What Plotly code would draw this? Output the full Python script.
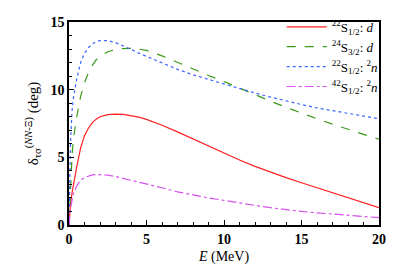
import plotly.graph_objects as go

E = [0, 0.05, 0.1, 0.2, 0.3, 0.5, 0.75, 1, 1.25, 1.5, 1.75, 2, 2.5, 3, 3.5, 4, 4.5, 5, 6, 7, 8, 9, 10,
     11, 12, 13, 14, 15, 16, 17, 18, 19, 20]

red_22S12_d = [0, 1.0, 1.6, 2.4, 3.1, 4.3, 5.7, 6.6, 7.15, 7.55, 7.82, 8.0, 8.15, 8.2, 8.18, 8.1, 7.97, 7.8,
               7.37, 6.88, 6.36, 5.83, 5.3, 4.8, 4.33, 3.9, 3.5, 3.12, 2.75, 2.38, 2.0, 1.64, 1.28]
green_24S32_d = [0, 1.5, 3.0, 5.2, 6.5, 8.0, 9.5, 10.5, 11.25, 11.8, 12.2, 12.45, 12.8, 12.97, 13.04, 13.05, 13.0,
                 12.9, 12.5, 12.0, 11.5, 11.05, 10.6, 10.1, 9.6, 9.15, 8.7, 8.25, 7.85, 7.45, 7.05, 6.7, 6.35]
blue_22S12_2n = [0, 4.5, 6.2, 8.5, 9.5, 10.8, 12.0, 12.7, 13.1, 13.38, 13.55, 13.63, 13.62, 13.48, 13.25, 12.98, 12.7,
                 12.45, 11.95, 11.5, 11.1, 10.75, 10.45, 10.1, 9.75, 9.45, 9.15, 8.9, 8.65, 8.45, 8.25, 8.05, 7.85]
mag_42S12_2n = [0, 0.8, 1.2, 1.85, 2.35, 2.9, 3.3, 3.52, 3.64, 3.7, 3.73, 3.73, 3.68, 3.58, 3.45, 3.3, 3.18,
                3.05, 2.75, 2.45, 2.2, 2.0, 1.82, 1.62, 1.45, 1.28, 1.13, 1.0, 0.9, 0.8, 0.7, 0.62, 0.54]

names = ["<sup>22</sup>S<sub>1/2</sub>: <i>d</i>",
         "<sup>24</sup>S<sub>3/2</sub>: <i>d</i>",
         "<sup>22</sup>S<sub>1/2</sub>: <sup>2</sup><i>n</i>",
         "<sup>42</sup>S<sub>1/2</sub>: <sup>2</sup><i>n</i>"]

series = [red_22S12_d, green_24S32_d, blue_22S12_2n, mag_42S12_2n]
colors = ["#ff2020", "#3a9a1a", "#3a66ff", "#d850f0"]
dashes = ["solid", "dash", "dot", "dashdot"]

fig = go.Figure()
for y, n, c, d in zip(series, names, colors, dashes):
    fig.add_trace(go.Scatter(x=E, y=y, name=n, mode="lines",
                             line=dict(color=c, dash=d, width=1.2, shape="linear")))

font_family = "Liberation Serif"
fig.update_layout(
    width=398, height=274,
    margin=dict(l=69, r=12, t=13, b=49),
    plot_bgcolor="white", paper_bgcolor="white",
    font=dict(family=font_family, size=14, color="black"),
    showlegend=True,
    legend=dict(x=1.012, y=1.05, xanchor="right", yanchor="top",
                bgcolor="rgba(0,0,0,0)", borderwidth=0,
                font=dict(family=font_family, size=13),
                tracegroupgap=0, itemwidth=40),
)
fig.update_xaxes(range=[0, 20], tickvals=[0, 5, 10, 15, 20],
                 ticks="inside", ticklen=5, tickwidth=1.2, tickcolor="black",
                 minor=dict(dtick=1, ticks="inside", ticklen=3, tickwidth=1, tickcolor="black"),
                 showline=True, linecolor="black", linewidth=1.5, mirror=True,
                 showgrid=False, zeroline=False,
                 tickfont=dict(family=font_family, size=14, weight="bold"),
                 title=dict(text="<i>E</i> (MeV)", font=dict(family=font_family, size=14), standoff=6))
fig.update_yaxes(range=[0, 15], tickvals=[0, 5, 10, 15],
                 ticks="inside", ticklen=5, tickwidth=1.2, tickcolor="black",
                 minor=dict(dtick=1, ticks="inside", ticklen=3, tickwidth=1, tickcolor="black"),
                 showline=True, linecolor="black", linewidth=1.5, mirror=True,
                 showgrid=False, zeroline=False,
                 tickfont=dict(family=font_family, size=14, weight="bold"),
                 title=dict(text="δ<sub>τσ</sub><sup>(<i>NN</i>-Ξ)</sup> (deg)",
                            font=dict(family=font_family, size=15), standoff=8))

fig.write_html("out.html", config={"displayModeBar": False},
               post_script="document.body.style.margin='0';document.documentElement.style.overflow='hidden';")
